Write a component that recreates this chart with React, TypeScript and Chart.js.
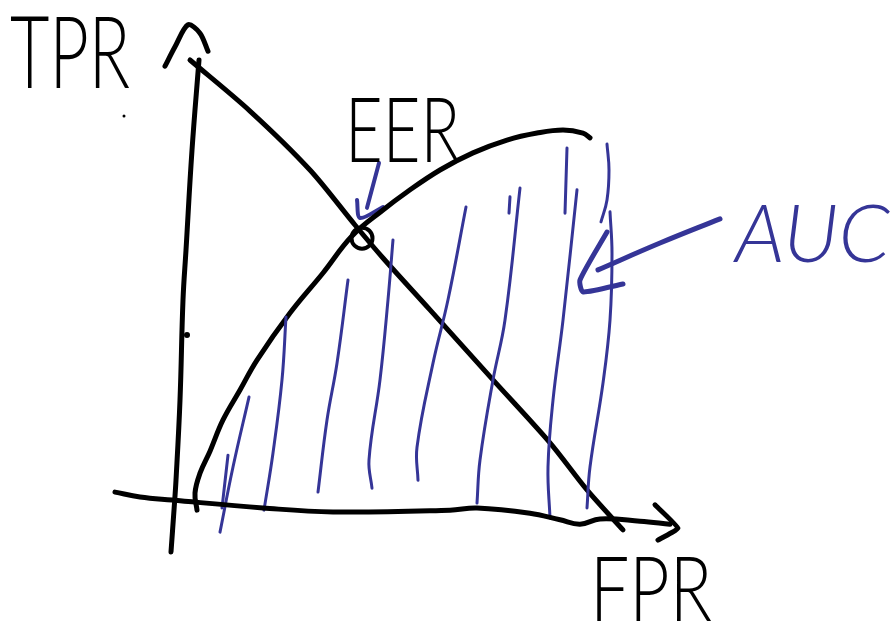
import React, { useEffect, useRef } from "react";
import { Chart, registerables } from "chart.js";

Chart.register(...registerables);

type P = [number, number];

// Sketch data in (FPR, TPR) units
const rocCurve: P[] = [
  [0.0175, -0.023], [0.0125, 0.016], [0.025, 0.061], [0.05, 0.111], [0.0825, 0.182],
  [0.125, 0.25], [0.1675, 0.318], [0.25, 0.425], [0.3325, 0.516], [0.405, 0.6],
  [0.4825, 0.659], [0.5425, 0.7], [0.625, 0.75], [0.7075, 0.789], [0.7925, 0.818],
  [0.8675, 0.834], [0.9325, 0.841], [0.9825, 0.834], [1.0, 0.823],
];

const diagonalLine: P[] = [
  [0, 1.0], [0.15, 0.884], [0.3, 0.75], [0.4125, 0.625], [0.4825, 0.55],
  [0.6, 0.432], [0.7575, 0.273], [0.9, 0.13], [0.9925, 0.023], [1.0825, -0.068],
];

const eerPoint: P[] = [[0.43, 0.595]];

const yAxisLine: P[] = [
  [0.0225, 1.0], [0.005, 0.795], [-0.01, 0.568], [-0.0175, 0.455], [-0.025, 0.227],
  [-0.035, 0.045], [-0.04, -0.023], [-0.0475, -0.118],
];
const yArrowHead: P[] = [[-0.0625, 0.986], [-0.0375, 1.03], [-0.005, 1.08], [0.025, 1.061], [0.045, 1.02]];

const xAxisLine: P[] = [
  [-0.1875, 0.018], [-0.125, 0.007], [-0.045, 0], [0.1825, -0.018], [0.3575, -0.027],
  [0.65, -0.023], [0.7175, -0.018], [0.85, -0.03], [0.925, -0.045], [0.975, -0.055],
  [1.025, -0.043], [1.125, -0.048], [1.2, -0.055],
];
const xArrowHead: P[] = [[1.1625, -0.011], [1.22, -0.064], [1.17, -0.091]];

const aucHatches: P[][] = [
  [[0.095, 0.102], [0.08, -0.018]],
  [[0.1475, 0.234], [0.1075, 0.075], [0.075, -0.073]],
  [[0.24, 0.416], [0.23, 0.273], [0.2075, 0.107], [0.185, -0.023]],
  [[0.395, 0.5], [0.3675, 0.311], [0.3425, 0.182], [0.32, 0.018]],
  [[0.5075, 0.591], [0.495, 0.455], [0.475, 0.273], [0.4475, 0.091], [0.455, 0.027]],
  [[0.69, 0.666], [0.645, 0.455], [0.6075, 0.311], [0.5675, 0.12], [0.57, 0.045]],
  [[0.825, 0.709], [0.7875, 0.409], [0.7575, 0.273], [0.725, 0.091], [0.7175, -0.007]],
  [[0.8, 0.689], [0.7975, 0.652]],
  [[0.9425, 0.8], [0.9375, 0.652]],
  [[0.9675, 0.705], [0.9325, 0.409], [0.9075, 0.227], [0.895, 0.075], [0.9, -0.041]],
  [[1.0425, 0.809], [1.0475, 0.75], [1.0425, 0.682], [1.0275, 0.632]],
  [[1.05, 0.655], [1.055, 0.561], [1.05, 0.409], [1.0325, 0.266], [1.0, 0.075], [0.9925, -0.018]],
];

const eerArrowShaft: P[] = [[0.4725, 0.766], [0.4425, 0.664]];
const eerArrowHead: P[] = [[0.4175, 0.682], [0.425, 0.641], [0.4825, 0.666]];

const aucArrowShaft: P[] = [[1.325, 0.639], [1.175, 0.584], [1.02, 0.523]];
const aucArrowHead: P[] = [[1.0425, 0.609], [0.975, 0.5], [0.9825, 0.473], [1.0825, 0.491]];

const strayDots: P[] = [[-0.165, 0.873], [-0.0075, 0.375]];

const labelTexts = ["TPR", "EER", "FPR", "AUC"];

const BLACK = "#000000";
const BLUE = "#353597";

const toXY = (pts: P[]) => pts.map(([x, y]) => ({ x, y }));

const stroke = (pts: P[], color: string, width: number, tension = 0.4) => ({
  data: toXY(pts),
  showLine: true,
  borderColor: color,
  borderWidth: width,
  pointRadius: 0,
  tension,
  fill: false,
  borderCapStyle: "round" as const,
  borderJoinStyle: "round" as const,
});

// text anchors (left, baseline) in data units plus drawing style
const labelStyles = [
  { x: -0.45, y: 0.936, size: 100, width: 120, color: BLACK, italic: false },
  { x: 0.3875, y: 0.768, size: 90, width: 115, color: BLACK, italic: false },
  { x: 1.0, y: -0.275, size: 90, width: 122, color: BLACK, italic: false },
  { x: 1.3625, y: 0.541, size: 80, width: 155, color: BLUE, italic: true },
];

const textPlugin = {
  id: "sketchText",
  afterDatasetsDraw(chart: any) {
    const { ctx, scales } = chart;
    labelTexts.forEach((t, i) => {
      const s = labelStyles[i];
      const px = scales.x.getPixelForValue(s.x);
      const py = scales.y.getPixelForValue(s.y);
      ctx.save();
      ctx.font = `${s.italic ? "italic " : ""}300 ${s.size}px Lato, Roboto, "DejaVu Sans", sans-serif`;
      ctx.fillStyle = s.color;
      ctx.textAlign = "left";
      ctx.textBaseline = "alphabetic";
      const w = ctx.measureText(t).width;
      ctx.translate(px, py);
      ctx.scale(s.width / w, 1);
      ctx.fillText(t, 0, 0);
      ctx.restore();
    });
  },
};

export default function App() {
  const ref = useRef<HTMLCanvasElement | null>(null);
  useEffect(() => {
    if (!ref.current) return;
    const datasets: any[] = [
      stroke(yAxisLine, BLACK, 5),
      stroke(yArrowHead, BLACK, 5, 0.3),
      stroke(xAxisLine, BLACK, 5),
      stroke(xArrowHead, BLACK, 5, 0.1),
      ...aucHatches.map((h) => stroke(h, BLUE, 3)),
      stroke(diagonalLine, BLACK, 5, 0.3),
      stroke(rocCurve, BLACK, 5),
      stroke(eerArrowShaft, BLUE, 4, 0),
      stroke(eerArrowHead, BLUE, 4, 0.3),
      stroke(aucArrowShaft, BLUE, 5),
      stroke(aucArrowHead, BLUE, 5, 0.2),
      {
        data: toXY(eerPoint),
        showLine: false,
        pointRadius: 10.5,
        pointBorderWidth: 4,
        pointBorderColor: BLACK,
        pointBackgroundColor: "rgba(0,0,0,0)",
        pointStyle: "circle",
      },
      {
        data: toXY(strayDots),
        showLine: false,
        pointRadius: [1.5, 3],
        pointBorderWidth: 0,
        pointBackgroundColor: BLACK,
      },
    ];
    const chart = new Chart(ref.current, {
      type: "scatter",
      data: { datasets },
      options: {
        animation: false,
        responsive: false,
        maintainAspectRatio: false,
        layout: { padding: 0, autoPadding: false },
        events: [],
        plugins: { legend: { display: false }, tooltip: { enabled: false } },
        elements: { line: { borderCapStyle: "round" } },
        scales: {
          x: { type: "linear", display: false, min: -0.475, max: 1.75 },
          y: { type: "linear", display: false, min: -0.2795, max: 1.13636 },
        },
      } as any,
      plugins: [textPlugin],
    });
    return () => chart.destroy();
  }, []);
  return (
    <div style={{ position: "absolute", left: 0, top: 0, width: 890, height: 623, background: "#fff" }}>
      <canvas ref={ref} width={890} height={623} style={{ display: "block" }} />
    </div>
  );
}
